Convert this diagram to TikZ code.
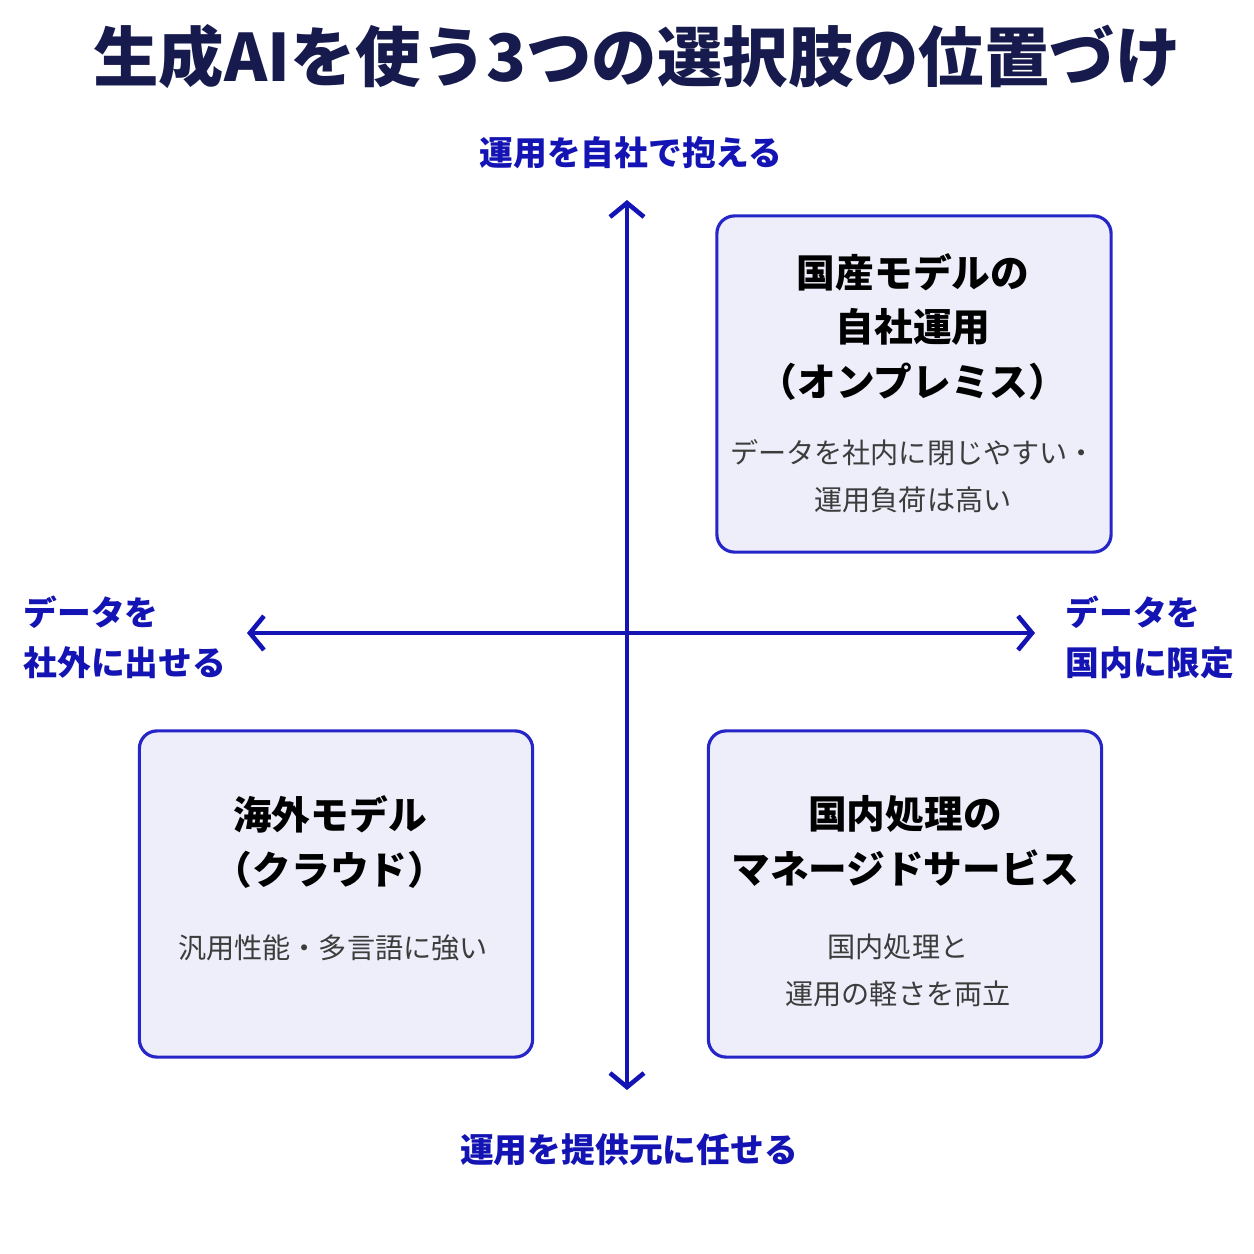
\documentclass[tikz,border=0pt]{standalone}
\usepackage{fontspec}
\setmainfont{Noto Sans CJK JP}
\usetikzlibrary{arrows.meta}

\definecolor{titlenavy}{HTML}{161A4C}
\definecolor{axisblue}{HTML}{1414B4}
\definecolor{boxfill}{HTML}{EEEEFA}
\definecolor{boxedge}{HTML}{2626C8}
\definecolor{descgray}{HTML}{3C3C3C}

\begin{document}
\begin{tikzpicture}[x=0.01cm, y=-0.01cm,
    axis/.style={draw=axisblue, line width=1.3pt,
      {Straight Barb[length=1.4mm,width=3.4mm]}-{Straight Barb[length=1.4mm,width=3.4mm]}},
    axislabel/.style={text=axisblue, inner sep=0pt,
      font=\bfseries\fontsize{9.6}{14.2}\selectfont},
    quadrant/.style={draw=boxedge, fill=boxfill, line width=0.9pt,
      rounded corners=5pt, inner sep=0pt},
    qtitle/.style={align=center, inner sep=0pt,
      font=\bfseries\fontsize{11}{15.6}\selectfont},
    qdesc/.style={align=center, inner sep=0pt, text=descgray,
      font=\fontsize{8}{13.4}\selectfont}]

    \useasboundingbox[fill=white] (0,0) rectangle (1254,1254);

    % Title
    \node[text=titlenavy, inner sep=0pt, font=\bfseries\fontsize{18.6}{22}\selectfont]
      (title) at (637,57) {生成AIを使う3つの選択肢の位置づけ};

    % Axes
    \coordinate (ytop) at (627,200);
    \coordinate (ybot) at (627,1090);
    \coordinate (xleft) at (247,633);
    \coordinate (xright) at (1035,633);
    \draw[axis] (ytop) -- (ybot);
    \draw[axis] (xleft) -- (xright);

    % Axis labels
    \node[axislabel] (lblTop) at (631,153) {運用を自社で抱える};
    \node[axislabel] (lblBot) at (629,1150) {運用を提供元に任せる};
    \node[axislabel, anchor=west, align=left] (lblLeft) at (23,637) {データを\\社外に出せる};
    \node[axislabel, anchor=west, align=left] (lblRight) at (1065,637) {データを\\国内に限定};

    % Quadrant boxes
    \node[quadrant, minimum width=3.94cm, minimum height=3.36cm] (onprem) at (914,384) {};
    \node[quadrant, minimum width=3.93cm, minimum height=3.26cm] (cloud) at (336,894) {};
    \node[quadrant, minimum width=3.93cm, minimum height=3.26cm] (managed) at (905,894) {};

    % Box texts
    \node[qtitle] (onpremTitle) at (913,327) {国産モデルの\\自社運用\\（オンプレミス）};
    \node[qdesc] (onpremDesc) at (913,476) {データを社内に閉じやすい・\\運用負荷は高い};
    \node[qtitle] (cloudTitle) at (330,842) {海外モデル\\（クラウド）};
    \node[qdesc] (cloudDesc) at (333,948) {汎用性能・多言語に強い};
    \node[qtitle] (managedTitle) at (905,841) {国内処理の\\マネージドサービス};
    \node[qdesc] (managedDesc) at (898,970) {国内処理と\\運用の軽さを両立};
\end{tikzpicture}
\end{document}
